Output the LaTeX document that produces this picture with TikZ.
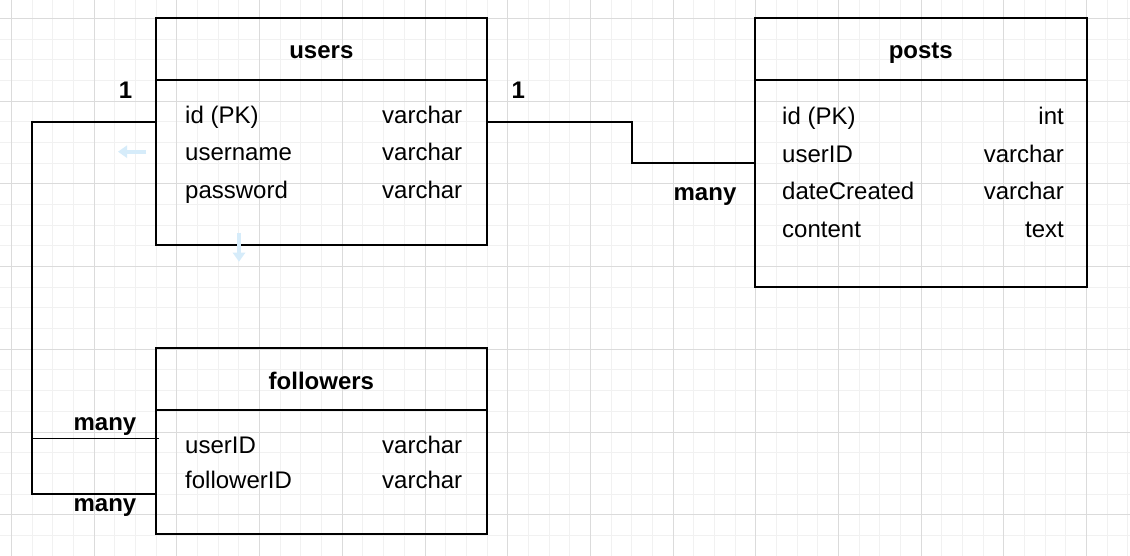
\documentclass[tikz,border=0pt]{standalone}
\usepackage{fontspec}
\setmainfont{Liberation Sans}
\usetikzlibrary{arrows.meta,positioning,calc}
\definecolor{gridlo}{gray}{0.945}
\definecolor{gridhi}{gray}{0.86}
\definecolor{hintblue}{RGB}{214,236,250}
\tikzset{
  gridln/.style={gridlo,line width=1pt},
  gridmaj/.style={gridhi,line width=1pt},
  tblhead/.style={draw,line width=2pt,minimum height=62pt,inner sep=0pt,outer sep=0pt,
    text height=25pt,text depth=5pt,font=\fontsize{24}{28}\selectfont\bfseries},
  tblbody/.style={draw,line width=2pt,inner sep=0pt,outer sep=0pt},
  fld/.style={anchor=base west,inner sep=0pt,font=\fontsize{24}{28}\selectfont},
  ftype/.style={fld},
  ftyper/.style={anchor=base east,inner sep=0pt,font=\fontsize{24}{28}\selectfont},
  card/.style={anchor=base,inner sep=0pt,font=\fontsize{24}{28}\selectfont\bfseries},
  link/.style={line width=2pt},
  linkthin/.style={line width=1.5pt},
  hint/.style={hintblue,line width=4pt,-{Triangle[width=12pt,length=9pt]}},
}

\begin{document}
\begin{tikzpicture}[x=1pt,y=-1pt]
  \useasboundingbox (0,0) rectangle (1130,556);
  \fill[white] (0,0) rectangle (1130,556);
  % raster
  \foreach \k in {0,...,54}{%
    \draw[gridln] ({11.6+20.67*\k},0)--({11.6+20.67*\k},556);}
  \foreach \k in {1,...,27}{%
    \draw[gridln] (0,{-2.07+20.67*\k})--(1130,{-2.07+20.67*\k});}
  \foreach \k in {0,4,...,52}{%
    \draw[gridmaj] ({11.6+20.67*\k},0)--({11.6+20.67*\k},556);}
  \foreach \k in {1,5,...,25}{%
    \draw[gridmaj] (0,{-2.07+20.67*\k})--(1130,{-2.07+20.67*\k});}

  % tabellen
  \node[tblhead,minimum width=330.7pt] (usersH) at (321.35,49) {users};
  \node[tblbody,minimum width=330.7pt,minimum height=165.3pt,below=0pt of usersH] (usersB) {};
  \node[tblhead,minimum width=331.5pt] (postsH) at (920.75,49) {posts};
  \node[tblbody,minimum width=331.5pt,minimum height=206.7pt,below=0pt of postsH] (postsB) {};
  \node[tblhead,minimum width=330.7pt] (followersH) at (321.35,379.3) {followers};
  \node[tblbody,minimum width=330.7pt,minimum height=124pt,below=0pt of followersH] (followersB) {};

  \foreach \n/\f/\t/\y in {uId/id (PK)/varchar/124,uName/username/varchar/161,uPass/password/varchar/199,
      fUser/userID/varchar/453.3,fFollower/followerID/varchar/488.3}{%
    \node[fld] (\n) at (185,\y) {\f};
    \node[ftype] (\n T) at (382,\y) {\t};}
  \foreach \n/\f/\t/\y in {pId/id (PK)/int/125,pUser/userID/varchar/163,pDate/dateCreated/varchar/200,pContent/content/text/237}{%
    \node[fld] (\n) at (782,\y) {\f};
    \node[ftyper] (\n T) at (1064,\y) {\t};}

  % verbindingen
  \coordinate (uOutR) at ([yshift=-42pt]usersB.north east);
  \coordinate (jog) at (632,122);
  \coordinate (pIn) at ([yshift=-82.7pt]postsB.north west);
  \draw[link] (uOutR) -- (jog) |- (pIn);
  \coordinate (uOutL) at ([yshift=-42pt]usersB.north west);
  \coordinate (bend) at (32,122);
  \coordinate (fIn1) at ([xshift=3pt,yshift=-28.4pt]followersB.north west);
  \coordinate (fIn2) at ([yshift=-83.4pt]followersB.north west);
  \draw[link] (uOutL) -- (bend) |- (fIn2);
  \draw[linkthin] (bend |- fIn1) -- (fIn1);

  \node[card] (cUsersL) at (125.5,99) {1};
  \node[card] (cUsersR) at (518.3,99) {1};
  \node[card] (cPosts) at (705,201) {many};
  \node[card] (cFollow1) at (105,430) {many};
  \node[card] (cFollow2) at (105,511.7) {many};

  % vage pijltjes
  \coordinate (hintA) at (146,151.7);
  \coordinate (hintB) at (239,233);
  \draw[hint] (hintA) -- ++(-28,0);
  \draw[hint] (hintB) -- ++(0,28.7);
\end{tikzpicture}
\end{document}
